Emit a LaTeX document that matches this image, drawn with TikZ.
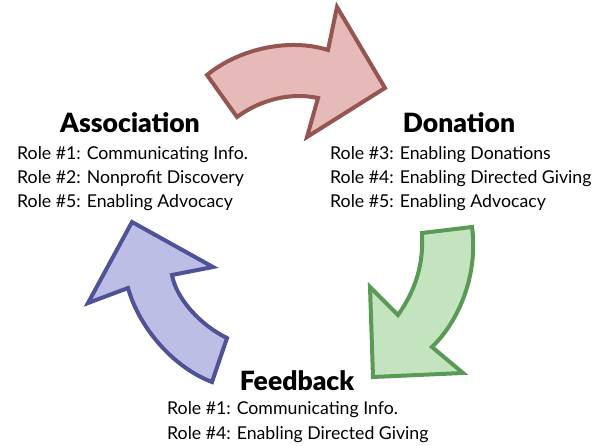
\documentclass[tikz,border=0pt]{standalone}
\usepackage{fontspec}
\setmainfont{Lato}
\newfontfamily\titlefont{Lato Black}
\definecolor{redline}{HTML}{955551}
\definecolor{redfill}{HTML}{E5BAB8}
\definecolor{greenline}{HTML}{5B9A56}
\definecolor{greenfill}{HTML}{C3E4BF}
\definecolor{blueline}{HTML}{4F5296}
\definecolor{bluefill}{HTML}{BDBEE5}
\tikzset{
  cycle arrow/.style={
    line width=4pt,
    line join=miter
  },
  red arrow/.style={cycle arrow,draw=redline,fill=redfill},
  green arrow/.style={cycle arrow,draw=greenline,fill=greenfill},
  blue arrow/.style={cycle arrow,draw=blueline,fill=bluefill},
  stage title/.style={
    anchor=base,
    inner sep=0pt,
    font=\fontsize{26.5}{30}\titlefont
  },
  role text/.style={
    anchor=base west,
    inner sep=0pt,
    font=\fontsize{17.7}{21}\selectfont
  }
}

\begin{document}
\begin{tikzpicture}[x=1pt,y=-1pt]
  \useasboundingbox (0,0) rectangle (603,446);
  \draw[red arrow] (207,75) .. controls (240,48) and (290,38) .. (328,50) -- (337,7) -- (385,88) -- (307,137) -- (318,98) .. controls (290,92) and (260,100) .. (237,117) -- cycle;
  \draw[green arrow] (422,233) -- (472,227) .. controls (478,270) and (462,318) .. (432,347) -- (463,373) -- (373,377) -- (370,287) -- (398,315) .. controls (412,295) and (424,270) .. (422,233) -- cycle;
  \draw[blue arrow] (227,338) -- (212,382) .. controls (175,368) and (140,330) .. (128,288) -- (88,303) -- (132,222) -- (213,267) -- (172,275) .. controls (176,298) and (200,325) .. (227,338) -- cycle;
  \node[stage title] (association) at (130,133) {Association};
  \node[role text] (assoc1) at (17,160) {Role \#1: Communicating Info.};
  \node[role text] (assoc2) at (17,184) {Role \#2: Nonprofit Discovery};
  \node[role text] (assoc3) at (17,208) {Role \#5: Enabling Advocacy};
  \node[stage title] (donation) at (459,133) {Donation};
  \node[role text] (don1) at (330,160) {Role \#3: Enabling Donations};
  \node[role text] (don2) at (330,184) {Role \#4: Enabling Directed Giving};
  \node[role text] (don3) at (330,208) {Role \#5: Enabling Advocacy};
  \node[stage title] (feedback) at (297,391) {Feedback};
  \node[role text] (feed1) at (167,415) {Role \#1: Communicating Info.};
  \node[role text] (feed2) at (167,439) {Role \#4: Enabling Directed Giving};
\end{tikzpicture}
\end{document}
